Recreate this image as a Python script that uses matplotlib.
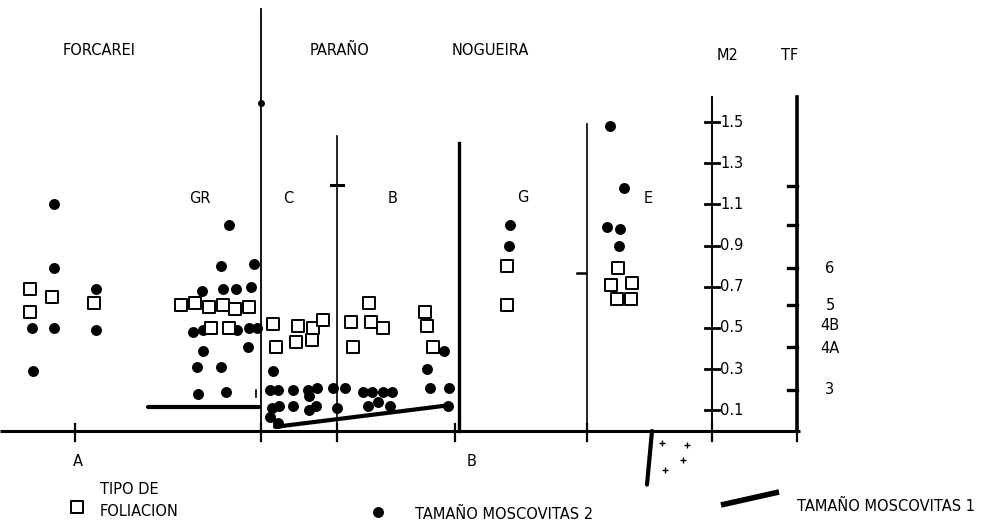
import matplotlib
matplotlib.use("Agg")
import matplotlib.pyplot as plt

# ---------------- data (x = distance along section, y = M2 size scale) -------------
# Tipo de foliacion (squares)
fol_x = [30, 30, 52, 94,
         181, 195, 209, 223, 235, 249, 211, 229,
         273, 276, 298, 296, 313, 312, 323,
         351, 353, 369, 371, 383, 425, 427, 433,
         507, 507,
         618, 611, 632, 617, 631]
fol_y = [0.69, 0.58, 0.65, 0.62,
         0.61, 0.62, 0.60, 0.61, 0.59, 0.60, 0.50, 0.50,
         0.52, 0.41, 0.51, 0.43, 0.50, 0.44, 0.54,
         0.53, 0.41, 0.62, 0.53, 0.50, 0.58, 0.51, 0.41,
         0.80, 0.61,
         0.79, 0.71, 0.72, 0.64, 0.64]

# Tamano moscovitas 2 (dots)
m2_x = [32, 54, 54, 54, 33, 96, 96,
        229, 221, 254, 202, 223, 236, 251, 193, 203, 237, 249, 257, 203, 248,
        197, 221, 198, 226,
        273, 270, 278, 293, 308, 317, 309, 272, 279, 293, 309, 316, 270, 278,
        333, 345, 337,
        363, 372, 383, 392, 368, 378, 390, 444, 427, 430, 449, 448,
        510, 509,
        610, 624, 607, 620, 619]
m2_y = [0.50, 0.50, 0.79, 1.10, 0.29, 0.69, 0.49,
        1.00, 0.80, 0.81, 0.68, 0.69, 0.69, 0.70, 0.48, 0.49, 0.49, 0.50, 0.50, 0.39, 0.41,
        0.31, 0.31, 0.18, 0.19,
        0.29, 0.20, 0.20, 0.20, 0.20, 0.21, 0.17, 0.11, 0.12, 0.12, 0.10, 0.12, 0.07, 0.04,
        0.21, 0.21, 0.11,
        0.19, 0.19, 0.19, 0.19, 0.12, 0.14, 0.12, 0.39, 0.30, 0.21, 0.21, 0.12,
        1.00, 0.90,
        1.48, 1.18, 0.99, 0.98, 0.90]

# Tamano moscovitas 1 (thick segments)
m1_segments = [([148, 259], [0.117, 0.117]),
               ([275, 449], [0.02, 0.125]),
               ([652, 647], [0.0, -0.26])]

# Section boundaries (x, top value)
bound_x = [261, 337, 459, 587]
bound_top = [2.05, 1.43, 1.40, 1.49]
bound_lw = [1.3, 1.2, 2.4, 1.2]

# M2 scale
m2_ticks = [0.1, 0.3, 0.5, 0.7, 0.9, 1.1, 1.3, 1.5]
m2_tick_labels = ["0.1", "0.3", "0.5", "0.7", "0.9", "1.1", "1.3", "1.5"]
# TF scale
tf_ticks = [0.20, 0.41, 0.61, 0.79, 1.00, 1.19]
tf_labels = ["3", "4A", "4B", "5", "6"]
tf_label_y = [0.20, 0.40, 0.51, 0.61, 0.79]

# crosses (granite symbol)
cross_x = [662, 687, 683, 665]
cross_y = [-0.06, -0.07, -0.14, -0.19]

# ------------------------------------------------------------------------------------
W, H = 1002, 525
Y0, SC = 431.0, 206.0          # pixel row of value 0, pixels per unit


def py(p):
    """convert a pixel row to the value scale (for layout only)"""
    return (Y0 - p) / SC


fig = plt.figure(figsize=(W / 100, H / 100), dpi=100)
ax = fig.add_axes([0, 0, 1, 1])
ax.set_xlim(0, W)
ax.set_ylim(py(H), py(0))
ax.axis("off")

FONT = dict(family=["DejaVu Sans"], fontsize=10.5, color="black")
K = "black"

# baseline
ax.plot([0, 800], [0, 0], color=K, lw=2.2, solid_capstyle="butt")
# ticks below baseline
for tx in [75, 261, 337, 455, 587, 712, 797]:
    ax.plot([tx, tx], [py(424), py(441)], color=K, lw=1.6)

# section boundaries
for bx, bt, blw in zip(bound_x, bound_top, bound_lw):
    ax.plot([bx, bx], [0, bt], color=K, lw=blw)
# small marks on boundaries
ax.plot([261], [py(103)], marker="o", ms=4, color=K)
ax.plot([331, 343], [py(185), py(185)], color=K, lw=2.2)
ax.plot([577, 585], [py(273), py(273)], color=K, lw=1.8)
ax.plot([256, 256], [py(390), py(397)], color=K, lw=1.2)

# M2 axis
ax.plot([712, 712], [0, py(97)], color=K, lw=1.4)
for t, lab in zip(m2_ticks, m2_tick_labels):
    ax.plot([705, 719], [t, t], color=K, lw=2.0)
    ax.text(720, t, lab, ha="left", va="center", **FONT)

# TF axis
ax.plot([797, 797], [0, py(97)], color=K, lw=2.6)
for t in tf_ticks:
    ax.plot([788, 797], [t, t], color=K, lw=2.4)
for lab, t in zip(tf_labels, tf_label_y):
    ax.text(830, t, lab, ha="center", va="center", **FONT)

# data
for (sx, sy) in m1_segments:
    ax.plot(sx, sy, color=K, lw=3.0, solid_capstyle="round")
ax.scatter(m2_x, m2_y, s=62, color=K, zorder=3, linewidths=0)
ax.scatter(fol_x, fol_y, marker="s", s=80, facecolor="white", edgecolor=K,
           linewidths=1.4, zorder=4)
ax.scatter(cross_x, cross_y, marker="+", s=22, color=K, linewidths=1.0)

# headings
for txt, x, y in [("FORCAREI", 99, 50), ("PARAÑO", 340, 50), ("NOGUEIRA", 490, 50),
                  ("M2", 728, 55), ("TF", 790, 55),
                  ("GR", 200, 198), ("C", 288, 198), ("B", 393, 198),
                  ("G", 523, 197), ("E", 648, 198),
                  ("A", 78, 461), ("B", 472, 461)]:
    ax.text(x, py(y), txt, ha="center", va="center", **FONT)

# legend
ax.scatter([77], [py(507)], marker="s", s=80, facecolor="white", edgecolor=K, linewidths=1.4)
ax.text(100, py(490), "TIPO DE", ha="left", va="center", **FONT)
ax.text(100, py(511), "FOLIACION", ha="left", va="center", **FONT)
ax.scatter([378], [py(512)], s=62, color=K, linewidths=0)
ax.text(415, py(514), "TAMAÑO MOSCOVITAS 2", ha="left", va="center", **FONT)
ax.plot([721, 779], [py(505), py(492)], color=K, lw=4.0, solid_capstyle="butt")
ax.text(797, py(506), "TAMAÑO MOSCOVITAS 1", ha="left", va="center", **FONT)

fig.savefig("out.png", dpi=100, facecolor="white")
